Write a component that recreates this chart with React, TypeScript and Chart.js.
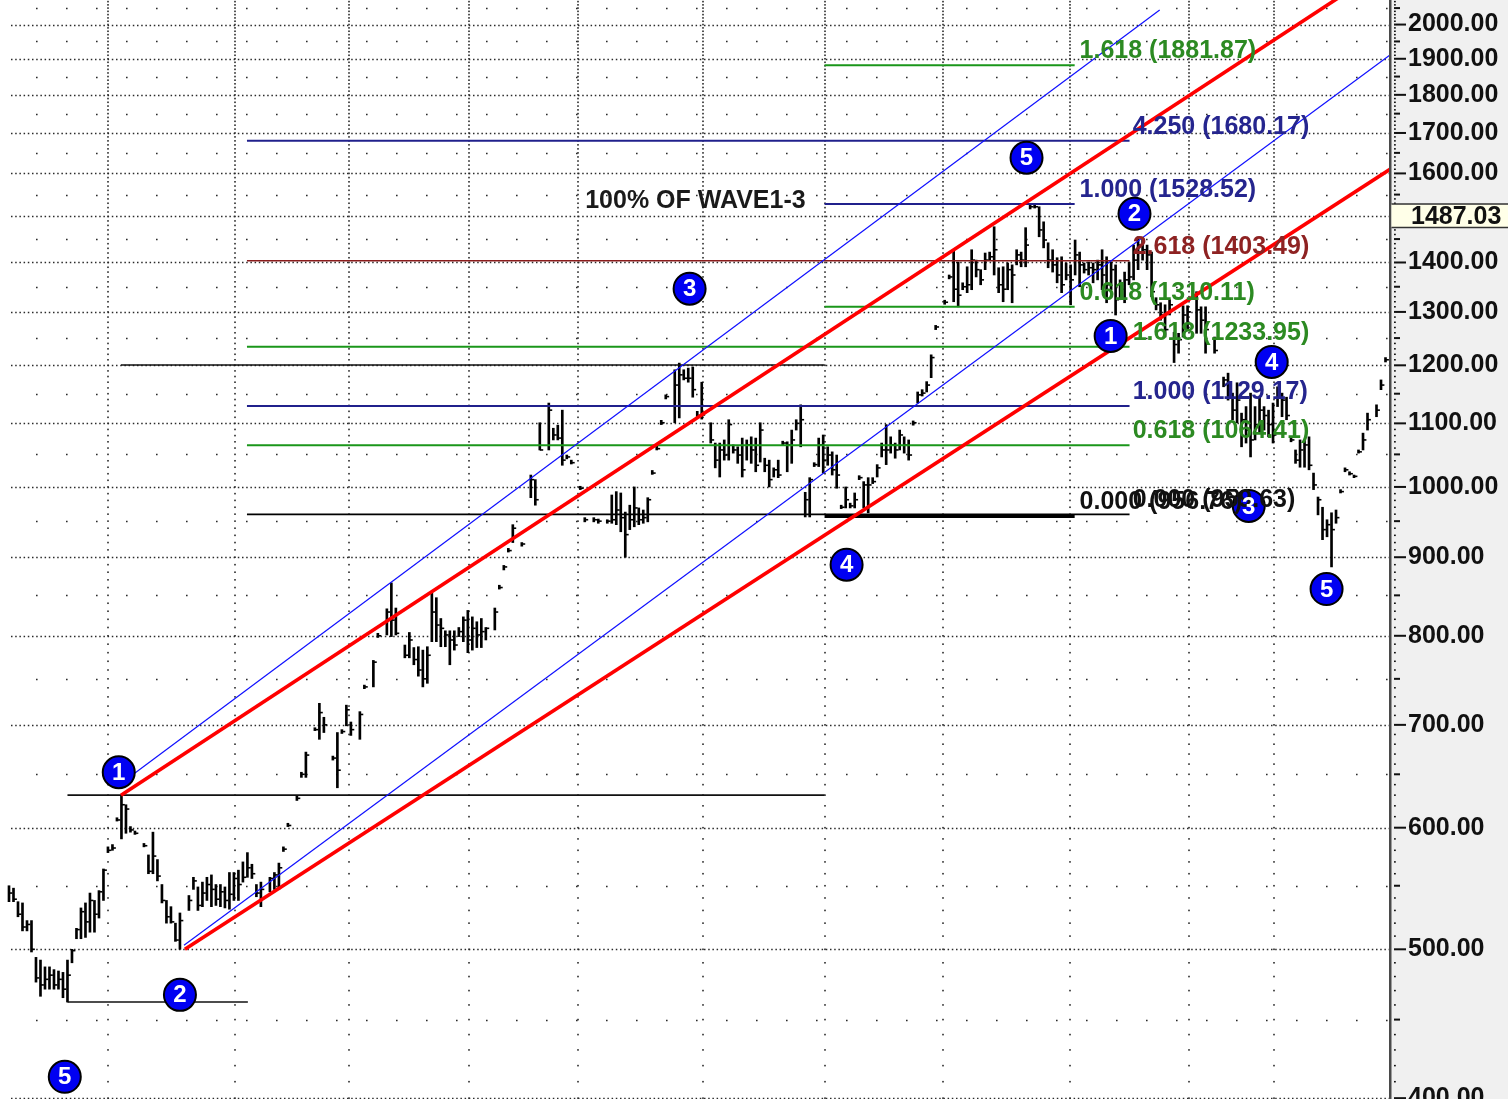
import React, { useEffect, useRef } from "react";
import { Chart, registerables } from "chart.js";

Chart.register(...registerables);

// ---------- price bars (bar number, high, low, close) ----------
const barIdx = [
  2, 3, 4, 5, 6, 7, 8, 9, 10, 11,
  12, 13, 14, 15, 16, 17, 18, 19, 20, 21,
  22, 23, 24, 25, 26, 27, 28, 29, 30, 32,
  33, 34, 35, 36, 37, 38, 39, 40, 42, 43,
  44, 45, 46, 47, 48, 49, 50, 51, 52, 53,
  54, 55, 56, 57, 58, 60, 61, 62, 63, 64,
  66, 67, 68, 70, 71, 72, 74, 75, 76, 77,
  78, 80, 81, 83, 84, 86, 87, 88, 90, 91,
  92, 93, 94, 95, 96, 97, 98, 99, 100, 101,
  102, 103, 104, 105, 106, 107, 108, 110, 111, 112,
  113, 114, 116, 118, 119, 120, 122, 123, 124, 125,
  126, 127, 129, 130, 132, 133, 135, 136, 137, 138,
  139, 140, 141, 142, 143, 144, 145, 146, 147, 148,
  150, 151, 152, 153, 154, 155, 156, 158, 159, 160,
  161, 162, 163, 164, 165, 166, 167, 168, 169, 170,
  171, 172, 173, 174, 175, 176, 177, 178, 179, 180,
  181, 182, 183, 184, 185, 186, 187, 188, 189, 190,
  191, 192, 193, 194, 195, 196, 197, 198, 199, 200,
  201, 202, 203, 204, 205, 206, 207, 208, 210, 211,
  212, 213, 214, 215, 216, 217, 218, 219, 220, 221,
  222, 223, 224, 225, 226, 227, 228, 229, 230, 231,
  232, 233, 234, 235, 236, 237, 238, 239, 240, 241,
  242, 243, 244, 245, 246, 247, 248, 249, 250, 251,
  252, 253, 254, 255, 256, 257, 258, 259, 260, 261,
  262, 263, 264, 266, 267, 268, 270, 272, 273, 274,
  275, 276, 277, 278, 279, 280, 281, 282, 283, 284,
  285, 286, 287, 288, 289, 290, 291, 292, 293, 294,
  295, 296, 297, 298, 299, 300, 301, 302, 303, 304,
  306, 307, 308,
];

const barHigh = [
  550, 548, 537, 536, 522, 522, 494, 492, 487, 487,
  485, 484, 483, 492, 500, 516, 532, 536, 544, 538,
  546, 564, 583, 585, 609, 630, 621, 601, 597, 586,
  576, 596, 572, 551, 538, 533, 520, 528, 542, 557,
  549, 553, 557, 559, 551, 551, 549, 561, 561, 563,
  570, 578, 568, 551, 553, 557, 561, 569, 583, 604,
  629, 652, 672, 697, 723, 708, 668, 692, 695, 721,
  703, 714, 743, 771, 803, 833, 866, 834, 789, 804,
  786, 787, 783, 787, 853, 847, 821, 806, 806, 806,
  810, 823, 831, 823, 817, 821, 810, 834, 863, 889,
  912, 945, 920, 1018, 1011, 1101, 1134, 1092, 1097, 1122,
  1049, 1041, 1001, 955, 955, 953, 952, 988, 993, 991,
  963, 973, 1000, 969, 966, 984, 1025, 1063, 1105, 1148,
  1192, 1204, 1192, 1195, 1197, 1120, 1170, 1101, 1068, 1068,
  1073, 1106, 1065, 1062, 1076, 1073, 1078, 1076, 1101, 1044,
  1041, 1029, 1041, 1071, 1070, 1089, 1106, 1131, 992, 1014,
  1037, 1076, 1081, 1062, 1054, 1049, 973, 1000, 976, 991,
  1017, 1008, 1014, 1014, 1034, 1068, 1098, 1078, 1068, 1089,
  1078, 1073, 1104, 1153, 1157, 1171, 1219, 1274, 1323, 1374,
  1427, 1401, 1358, 1391, 1427, 1405, 1385, 1420, 1422, 1477,
  1389, 1391, 1399, 1395, 1427, 1422, 1475, 1526, 1526, 1522,
  1488, 1442, 1427, 1410, 1412, 1399, 1395, 1448, 1422, 1399,
  1401, 1399, 1405, 1427, 1412, 1401, 1395, 1364, 1380, 1401,
  1437, 1455, 1453, 1437, 1422, 1328, 1318, 1314, 1324, 1261,
  1259, 1312, 1312, 1340, 1310, 1310, 1252, 1179, 1186, 1151,
  1169, 1117, 1128, 1151, 1128, 1144, 1128, 1122, 1134, 1162,
  1151, 1144, 1076, 1057, 1073, 1073, 1078, 1021, 985, 970,
  952, 962, 966, 996, 1029, 1023, 1018, 1057, 1084, 1117,
  1131, 1174, 1214,
];

const barLow = [
  537, 537, 525, 514, 514, 498, 476, 466, 471, 471,
  471, 471, 465, 462, 490, 508, 508, 509, 513, 513,
  524, 538, 578, 580, 606, 590, 595, 596, 594, 583,
  560, 560, 554, 536, 520, 520, 506, 500, 530, 547,
  530, 533, 538, 533, 534, 533, 532, 531, 538, 538,
  553, 557, 556, 541, 533, 545, 547, 547, 579, 601,
  625, 647, 647, 694, 685, 692, 664, 637, 691, 699,
  689, 685, 739, 741, 798, 801, 799, 801, 774, 774,
  766, 753, 741, 745, 793, 793, 787, 787, 766, 783,
  799, 793, 780, 783, 786, 786, 795, 807, 858, 883,
  907, 920, 915, 984, 973, 1057, 1057, 1073, 1073, 1033,
  1043, 1035, 996, 949, 949, 947, 947, 947, 945, 935,
  900, 938, 942, 945, 947, 949, 1019, 1057, 1098, 1141,
  1101, 1109, 1174, 1170, 1144, 1109, 1107, 1068, 1029, 1015,
  1041, 1041, 1052, 1036, 1015, 1041, 1036, 1023, 1038, 1023,
  1000, 1015, 1014, 1065, 1023, 1036, 1089, 1062, 956, 956,
  1031, 1031, 1021, 1033, 1018, 998, 968, 969, 969, 969,
  1011, 969, 962, 1005, 1015, 1046, 1034, 1052, 1044, 1057,
  1052, 1041, 1097, 1134, 1146, 1153, 1178, 1266, 1315, 1366,
  1320, 1310, 1344, 1338, 1344, 1370, 1354, 1385, 1405, 1374,
  1338, 1320, 1344, 1318, 1395, 1391, 1391, 1517, 1519, 1455,
  1431, 1389, 1380, 1358, 1338, 1364, 1314, 1374, 1350, 1378,
  1374, 1358, 1364, 1344, 1318, 1344, 1294, 1324, 1318, 1354,
  1364, 1385, 1405, 1385, 1330, 1304, 1284, 1252, 1294, 1205,
  1222, 1252, 1266, 1259, 1259, 1222, 1222, 1162, 1139, 1106,
  1101, 1062, 1068, 1046, 1073, 1084, 1089, 1078, 1068, 1128,
  1111, 1106, 1070, 1036, 1030, 1030, 1026, 996, 959, 924,
  928, 887, 947, 991, 1023, 1018, 1014, 1052, 1057, 1089,
  1111, 1157, 1206,
];

const barClose = [
  544, 539, 527, 517, 519, 500, 479, 474, 478, 481,
  474, 478, 471, 481, 499, 515, 529, 521, 538, 527,
  545, 563, 580, 582, 607, 621, 617, 598, 595, 584,
  562, 575, 558, 538, 525, 521, 507, 522, 538, 554,
  534, 544, 551, 547, 539, 545, 538, 543, 556, 551,
  557, 565, 560, 544, 547, 556, 559, 565, 581, 602,
  627, 650, 669, 695, 713, 700, 666, 654, 693, 716,
  695, 711, 741, 769, 800, 829, 819, 803, 777, 795,
  772, 760, 750, 777, 829, 813, 809, 801, 795, 789,
  805, 819, 795, 809, 801, 805, 809, 829, 860, 887,
  909, 940, 918, 1011, 981, 1057, 1122, 1081, 1076, 1041,
  1046, 1037, 998, 952, 952, 950, 950, 952, 966, 955,
  931, 952, 969, 952, 955, 981, 1021, 1059, 1101, 1145,
  1165, 1183, 1177, 1177, 1157, 1113, 1114, 1073, 1041, 1057,
  1049, 1098, 1057, 1049, 1026, 1065, 1057, 1033, 1089, 1033,
  1011, 1026, 1018, 1068, 1065, 1073, 1100, 1106, 981, 1011,
  1034, 1065, 1041, 1049, 1026, 1018, 970, 981, 972, 981,
  1014, 1003, 1003, 1008, 1029, 1057, 1057, 1065, 1057, 1081,
  1065, 1049, 1101, 1148, 1151, 1165, 1214, 1271, 1319, 1370,
  1345, 1333, 1350, 1354, 1405, 1385, 1364, 1405, 1412, 1427,
  1354, 1345, 1385, 1374, 1416, 1405, 1437, 1522, 1522, 1470,
  1448, 1405, 1395, 1374, 1354, 1374, 1364, 1416, 1395, 1385,
  1389, 1385, 1395, 1374, 1354, 1385, 1324, 1345, 1364, 1370,
  1405, 1437, 1427, 1416, 1340, 1314, 1294, 1266, 1314, 1238,
  1247, 1294, 1300, 1304, 1284, 1266, 1227, 1174, 1165, 1122,
  1139, 1106, 1089, 1073, 1098, 1122, 1113, 1098, 1081, 1148,
  1139, 1113, 1073, 1041, 1057, 1065, 1033, 1003, 981, 938,
  945, 938, 955, 993, 1026, 1020, 1016, 1054, 1073, 1106,
  1122, 1165, 1210,
];

// ---------- axis ----------
const yTicks = [400, 500, 600, 700, 800, 900, 1000, 1100, 1200, 1300, 1400, 1500, 1600, 1700, 1800, 1900, 2000];
const yMin = 399.5;
const yMax = 2075;
const xMin = 0;
const xMax = 309;
const lastPrice = 1487.03;
const timeGrid = [24, 52.2, 77.6, 104.2, 128.4, 156.2, 183.3, 209.6, 237.8, 264.4, 283.3];

// ---------- trend channels [x0, p0, x1, p1] ----------
const redChannel = [
  [26.9, 630, 309, 2190],
  [41.1, 500, 309, 1610],
];
const blueChannel = [
  [25.6, 637, 257.8, 2044],
  [40.9, 503, 309, 1911],
];

// ---------- horizontal pivot lines ----------
const pivotPrice = [630, 462, 1200.7];
const pivotStart = [15, 15, 26.9];
const pivotEnd = [183.3, 55.1, 183.3];

// ---------- fibonacci projections ----------
const fibARatio = ["4.250", "2.618", "1.618", "1.000", "0.618", "0.000"];
const fibAPrice = [1680.17, 1403.49, 1233.95, 1129.17, 1064.41, 959.63];
const fibASpan = [54.9, 251.1];
const fibALabelX = 251.8;

const fibBRatio = ["1.618", "1.000", "0.618", "0.000"];
const fibBPrice = [1881.87, 1528.52, 1310.11, 956.76];
const fibBSpan = [183.3, 238.9];
const fibBLabelX = 240;

const noteText = "100% OF WAVE1-3";
const noteX = 179.1;
const notePrice = 1528.52;

// ---------- wave count labels ----------
const waveIdx = [26.4, 40, 153.3, 188.2, 228.2, 246.9, 252.2, 277.6, 282.7, 294.9, 14.4];
const wavePrice = [652, 467, 1346, 890, 1638, 1254, 1506, 972, 1206, 858, 413];
const waveNum = [1, 2, 3, 4, 5, 1, 2, 3, 4, 5, 5];

const FONT = '"Liberation Sans", Arial, Helvetica, sans-serif';
const W = 1508;
const H = 1099;

function fibStyle(ratio: string) {
  if (ratio === "1.618" || ratio === "0.618") return { line: "#1a961a", text: "#2c8a22", width: 2 };
  if (ratio === "1.000" || ratio === "4.250") return { line: "#20208c", text: "#25258e", width: 2 };
  if (ratio === "2.618") return { line: "#8a1c1c", text: "#8e2222", width: 1.6 };
  return { line: "#000000", text: "#111111", width: 1.6 };
}

function seg(x0: number, p0: number, x1: number, p1: number, color: string, width: number, order: number) {
  return {
    type: "line",
    data: [
      { x: x0, y: p0 },
      { x: x1, y: p1 },
    ],
    borderColor: color,
    borderWidth: width,
    pointRadius: 0,
    pointHoverRadius: 0,
    fill: false,
    tension: 0,
    order,
  };
}

export default function App() {
  const ref = useRef<HTMLCanvasElement>(null);

  useEffect(() => {
    const canvas = ref.current;
    if (!canvas) return;

    const datasets: any[] = [];
    datasets.push({
      type: "bar",
      data: barIdx.map((x, i) => ({ x, y: [barLow[i], barHigh[i]] })),
      backgroundColor: "#000",
      barThickness: 2,
      minBarLength: 2,
      grouped: false,
      order: 10,
    });
    datasets.push({
      type: "line",
      data: barIdx.map((x, i) => ({ x, y: barClose[i] })),
      showLine: false,
      pointStyle: "dash",
      pointRadius: 3.4,
      pointHoverRadius: 3.4,
      pointBorderWidth: 1.6,
      pointBorderColor: "#000",
      pointBackgroundColor: "#000",
      order: 9,
    });

    pivotPrice.forEach((p, i) => datasets.push(seg(pivotStart[i], p, pivotEnd[i], p, "#111", 1.6, 8)));
    fibAPrice.forEach((p, i) => {
      const s = fibStyle(fibARatio[i]);
      datasets.push(seg(fibASpan[0], p, fibASpan[1], p, s.line, s.width, 8));
    });
    fibBPrice.forEach((p, i) => {
      const s = fibStyle(fibBRatio[i]);
      const w = fibBRatio[i] === "0.000" ? 3 : s.width;
      datasets.push(seg(fibBSpan[0], p, fibBSpan[1], p, s.line, w, 8));
    });
    blueChannel.forEach((l) => datasets.push(seg(l[0], l[1], l[2], l[3], "#1010ff", 1.2, 7)));
    redChannel.forEach((l) => datasets.push(seg(l[0], l[1], l[2], l[3], "#ff0000", 3.6, 6)));

    const waveDs = datasets.length;
    datasets.push({
      type: "line",
      data: waveIdx.map((x, i) => ({ x, y: wavePrice[i] })),
      showLine: false,
      pointStyle: "circle",
      pointRadius: 16,
      pointHoverRadius: 16,
      pointBackgroundColor: "#0000f2",
      pointBorderColor: "#000",
      pointBorderWidth: 2,
      clip: false,
      order: 1,
    });

    const deco = {
      id: "deco",
      beforeDraw(chart: any) {
        const { ctx, chartArea: a } = chart;
        ctx.save();
        ctx.fillStyle = "#ffffff";
        ctx.fillRect(0, 0, W, H);
        ctx.fillStyle = "#f0f0f0";
        ctx.fillRect(a.right, 0, W - a.right, H);
        ctx.restore();
      },
      beforeDatasetsDraw(chart: any) {
        const { ctx, chartArea: a, scales } = chart;
        const x = scales.x;
        const y = scales.y;
        ctx.save();
        ctx.beginPath();
        ctx.rect(a.left, a.top, a.right - a.left, a.bottom - a.top);
        ctx.clip();
        // major price rows
        ctx.strokeStyle = "#2a2a2a";
        ctx.lineWidth = 1.5;
        ctx.setLineDash([1.5, 2.7]);
        for (const v of yTicks) {
          const py = Math.round(y.getPixelForValue(v)) + 0.5;
          ctx.beginPath();
          ctx.moveTo(11, py);
          ctx.lineTo(a.right, py);
          ctx.stroke();
        }
        // minor price rows (sparse dots)
        ctx.setLineDash([1.6, 28.4]);
        for (const t of yTicks) {
          const py = Math.round(y.getPixelForValue(t + 50)) + 0.5;
          ctx.beginPath();
          ctx.moveTo(36, py);
          ctx.lineTo(a.right, py);
          ctx.stroke();
        }
        ctx.setLineDash([]);
        // time grid: dotted columns with a dot every 10 points
        ctx.fillStyle = "#2a2a2a";
        for (const g of timeGrid) {
          const px = Math.round(x.getPixelForValue(g));
          for (let v = 400; v <= 2080; v += 10) {
            const py = y.getPixelForValue(v);
            ctx.fillRect(px - 0.8, py - 0.8, 1.6, 1.6);
          }
        }
        ctx.restore();
      },
      afterDatasetsDraw(chart: any) {
        const { ctx, scales } = chart;
        const x = scales.x;
        const y = scales.y;
        ctx.save();
        ctx.textAlign = "left";
        ctx.textBaseline = "alphabetic";
        ctx.font = `bold 25px ${FONT}`;
        fibBRatio.forEach((r, i) => {
          ctx.fillStyle = fibStyle(r).text;
          ctx.fillText(`${r} (${fibBPrice[i].toFixed(2)})`, x.getPixelForValue(fibBLabelX), y.getPixelForValue(fibBPrice[i]) - 7);
        });
        fibARatio.forEach((r, i) => {
          ctx.fillStyle = fibStyle(r).text;
          ctx.fillText(`${r} (${fibAPrice[i].toFixed(2)})`, x.getPixelForValue(fibALabelX), y.getPixelForValue(fibAPrice[i]) - 7);
        });
        ctx.fillStyle = "#1a1a1a";
        ctx.textAlign = "right";
        ctx.textBaseline = "middle";
        ctx.fillText(noteText, x.getPixelForValue(noteX), y.getPixelForValue(notePrice) - 3);

        const meta = chart.getDatasetMeta(waveDs);
        ctx.font = `bold 24px ${FONT}`;
        ctx.textAlign = "center";
        ctx.textBaseline = "middle";
        ctx.fillStyle = "#ffffff";
        meta.data.forEach((pt: any, i: number) => {
          ctx.fillText(String(waveNum[i]), pt.x, pt.y + 1);
        });
        ctx.restore();
      },
      afterDraw(chart: any) {
        const { ctx, chartArea: a, scales } = chart;
        const y = scales.y;
        ctx.save();
        // axis border
        ctx.fillStyle = "#4a4a4a";
        ctx.fillRect(a.right - 1, 0, 2.5, H);
        // tick marks
        ctx.fillStyle = "#111";
        const x0 = a.right + 4;
        for (let v = 400; v <= 2070; v += 10) {
          const py = y.getPixelForValue(v);
          if (v % 100 === 0) ctx.fillRect(x0, py - 1, 12, 2);
          else if (v % 50 === 0) ctx.fillRect(x0, py - 1, 6, 2);
          else ctx.fillRect(x0, py - 0.75, 1.8, 1.5);
        }
        // last price box
        const c = y.getPixelForValue(lastPrice) - 6.5;
        ctx.fillStyle = "#ffffe8";
        ctx.fillRect(a.right + 1.5, c - 11.5, W - a.right, 23);
        ctx.fillStyle = "#333";
        ctx.fillRect(a.right + 1.5, c - 12.5, W - a.right, 1.5);
        ctx.fillRect(a.right + 1.5, c + 11, W - a.right, 1.5);
        ctx.fillStyle = "#111";
        ctx.font = `bold 25px ${FONT}`;
        ctx.textAlign = "left";
        ctx.textBaseline = "middle";
        ctx.fillText(lastPrice.toFixed(2), a.right + 21, c + 1);
        ctx.restore();
      },
    };

    const chart = new Chart(canvas, {
      type: "bar",
      data: { datasets },
      options: {
        responsive: false,
        animation: false,
        events: [],
        layout: { padding: 0, autoPadding: false },
        plugins: { legend: { display: false }, tooltip: { enabled: false } },
        scales: {
          x: {
            type: "linear",
            min: xMin,
            max: xMax,
            offset: false,
            display: false,
            grid: { display: false, offset: false },
          },
          y: {
            type: "logarithmic",
            position: "right",
            min: yMin,
            max: yMax,
            beginAtZero: false,
            grid: { display: false, drawTicks: false, tickLength: 0 },
            border: { display: false },
            afterBuildTicks: (scale: any) => {
              scale.ticks = yTicks.map((v) => ({ value: v }));
            },
            afterFit: (scale: any) => {
              scale.width = W - 1390;
              scale.paddingTop = 0;
              scale.paddingBottom = 0;
            },
            ticks: {
              autoSkip: false,
              padding: 18,
              color: "#111",
              font: { family: FONT, size: 25, weight: "bold" },
              callback: (v: any) => Number(v).toFixed(2),
            },
          },
        },
      } as any,
      plugins: [deco],
    } as any);

    return () => chart.destroy();
  }, []);

  return (
    <div style={{ position: "absolute", left: 0, top: 0, width: W, height: H, overflow: "hidden", background: "#fff" }}>
      <canvas ref={ref} width={W} height={H} style={{ display: "block", width: W, height: H }} />
    </div>
  );
}
